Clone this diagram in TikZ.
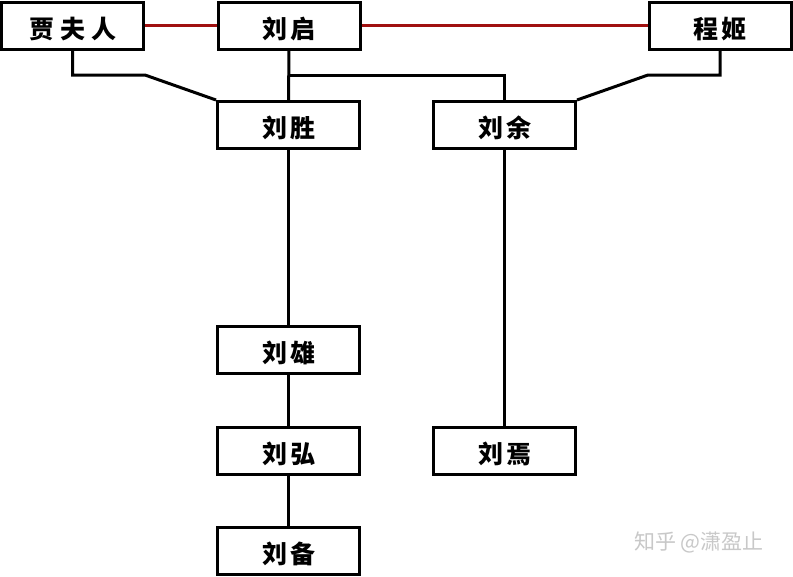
\documentclass[tikz,border=0pt]{standalone}
\usepackage{fontspec}
\newfontfamily\cjk{Noto Sans CJK SC}
\newcommand{\gp}{\hspace{3pt}}
\begin{document}
\begin{tikzpicture}[x=1pt,y=-1pt,
  person/.style={draw=black,line width=3pt,fill=white,minimum width=142pt,minimum height=47pt,inner sep=0pt,text height=25pt,text depth=0pt,font=\cjk\bfseries\fontsize{25}{25}\selectfont},
  kin/.style={draw=black,line width=3pt},
  wed/.style={draw={rgb,255:red,160;green,16;blue,16},line width=3pt}]
\useasboundingbox (0,0) rectangle (793,576);
\fill[white] (0,0) rectangle (793,576);
\node[person] (jia) at (72.5,25.5) {贾\hspace{6pt}夫\hspace{6pt}人};
\node[person] (qi) at (289,25.5) {刘\gp 启};
\node[person] (cheng) at (720,25.5) {程\gp 姬};
\node[person] (sheng) at (288.5,125) {刘\gp 胜};
\node[person] (yu) at (504.5,125) {刘\gp 余};
\node[person] (xiong) at (288.5,350) {刘\gp 雄};
\node[person] (hong) at (288.5,450.5) {刘\gp 弘};
\node[person] (bei) at (288.5,550.5) {刘\gp 备};
\node[person] (yan) at (504.5,450.5) {刘\gp 焉};
\coordinate (j2) at (145,75);
\coordinate (c2) at (648,75);
\draw[wed] (jia.east) -- (qi.west);
\draw[wed] (qi.east) -- (cheng.west);
\draw[kin] (jia.south) |- (j2) -- (sheng.north west);
\draw[kin] (cheng.south) |- (c2) -- (yu.north east);
\draw[kin] (qi.south) -- (sheng.north);
\draw[kin] (qi.south |- j2) -| (yu.north);
\draw[kin] (sheng.south) -- (xiong.north);
\draw[kin] (xiong.south) -- (hong.north);
\draw[kin] (hong.south) -- (bei.north);
\draw[kin] (yu.south) -- (yan.north);
\node[text={rgb,255:red,200;green,200;blue,200},font=\cjk\fontsize{21}{21}\selectfont,anchor=center] (wm) at (699,542) {知乎 @潇盈止};
\end{tikzpicture}
\end{document}
